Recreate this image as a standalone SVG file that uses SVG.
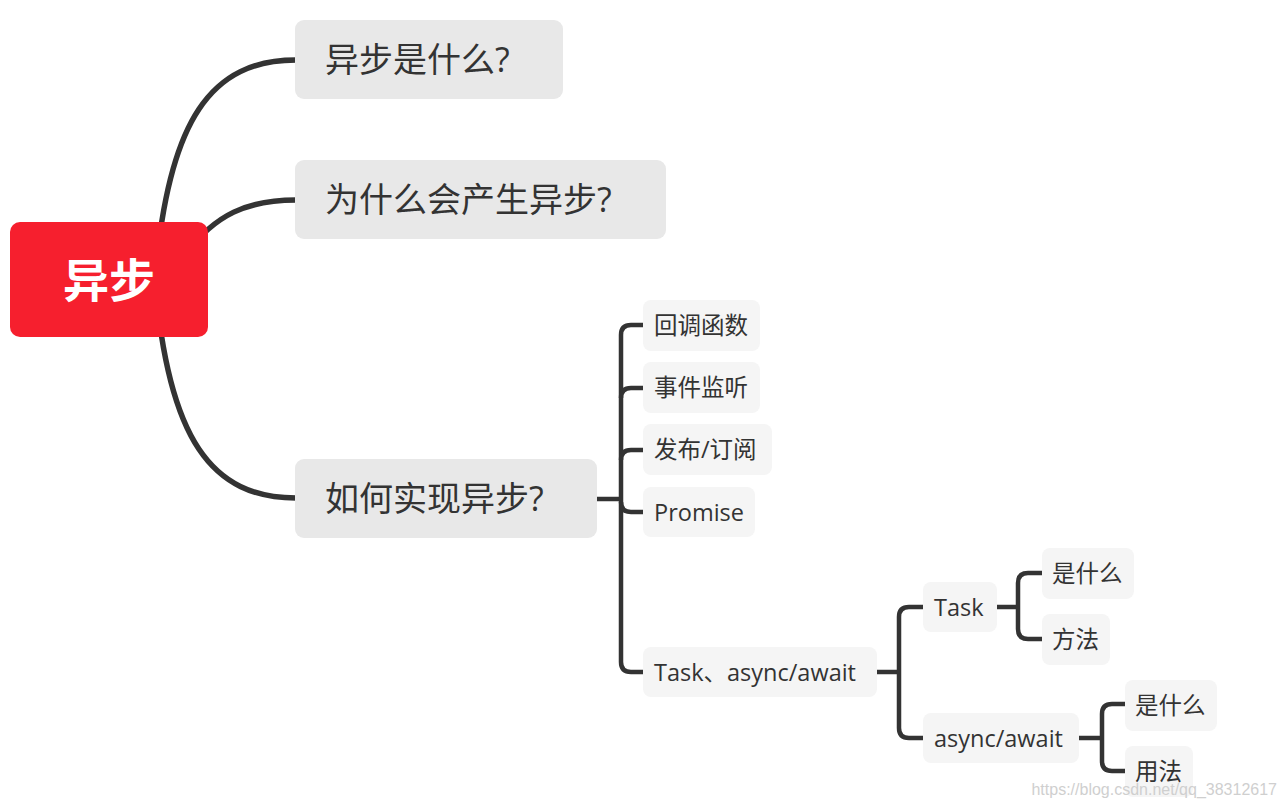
<svg xmlns="http://www.w3.org/2000/svg" width="1287" height="807" viewBox="0 0 1287 807">
<style>
.bg{fill:#ffffff}
.main{fill:none;stroke:#333333;stroke-width:5.5;stroke-linecap:round}
.sub{fill:none;stroke:#333333;stroke-width:4.5;stroke-linecap:butt}
.root{fill:#f61f2e}
.big{fill:#e8e8e8}
.small{fill:#f5f5f5}
.rt{font-family:"Noto Sans CJK SC","Noto Sans",sans-serif;font-weight:bold;font-size:46px;fill:#ffffff}
.bt{font-family:"Open Sans","Noto Sans CJK SC",sans-serif;font-size:34px;fill:#333333}
.st{font-family:"Open Sans","Noto Sans CJK SC",sans-serif;font-size:23.5px;fill:#333333}
.wm{font-family:"Liberation Sans",Arial,sans-serif;font-size:16px;fill:#cfcfcf}
</style>
<rect class="bg" x="0" y="0" width="1287" height="807"/>
<g id="connectors">
<path class="main" d="M155,280 C168,118 212,60 296,60"/>
<path class="main" d="M185,255 C215,214 248,200 296,200"/>
<path class="main" d="M155,280 C168,440 212,498 296,498"/>
<path class="sub" d="M597,499 H621"/>
<path class="sub" d="M643,325 H631 Q621,325 621,335 V662 Q621,672 631,672 H643"/>
<path class="sub" d="M621,398 Q621,388 631,388 H643"/>
<path class="sub" d="M621,460 Q621,450 631,450 H643"/>
<path class="sub" d="M621,502 Q621,512 631,512 H643"/>
<path class="sub" d="M877,672 H899"/>
<path class="sub" d="M923,607 H909 Q899,607 899,617 V728 Q899,738 909,738 H923"/>
<path class="sub" d="M997,607 H1018"/>
<path class="sub" d="M1042,573 H1028 Q1018,573 1018,583 V629 Q1018,639 1028,639 H1042"/>
<path class="sub" d="M1079,738 H1102"/>
<path class="sub" d="M1125,704 H1112 Q1102,704 1102,714 V761 Q1102,771 1112,771 H1125"/>
</g>
<g id="n-root">
<rect class="root" x="10" y="222" width="198" height="115" rx="10"/>
<text class="rt" x="109" y="297" text-anchor="middle">异步</text>
</g>
<g id="n-what">
<rect class="big" x="295" y="20" width="268" height="79" rx="9"/>
<text class="bt" x="325" y="72">异步是什么?</text>
</g>
<g id="n-why">
<rect class="big" x="295" y="160" width="371" height="79" rx="9"/>
<text class="bt" x="325" y="212">为什么会产生异步?</text>
</g>
<g id="n-how">
<rect class="big" x="295" y="459" width="302" height="79" rx="9"/>
<text class="bt" x="325" y="511">如何实现异步?</text>
</g>
<g id="n-callback">
<rect class="small" x="643" y="300" width="117" height="51" rx="8"/>
<text class="st" x="654" y="334">回调函数</text>
</g>
<g id="n-event">
<rect class="small" x="643" y="362" width="117" height="51" rx="8"/>
<text class="st" x="654" y="396">事件监听</text>
</g>
<g id="n-pubsub">
<rect class="small" x="643" y="424" width="129" height="51" rx="8"/>
<text class="st" x="654" y="458">发布/订阅</text>
</g>
<g id="n-promise">
<rect class="small" x="643" y="487" width="112" height="50" rx="8"/>
<text class="st" x="654" y="520.5">Promise</text>
</g>
<g id="n-taskasync">
<rect class="small" x="643" y="647" width="234" height="50" rx="8"/>
<text class="st" x="654" y="680.5">Task、async/await</text>
</g>
<g id="n-task">
<rect class="small" x="923" y="582" width="74" height="50" rx="8"/>
<text class="st" x="934" y="615.5">Task</text>
</g>
<g id="n-task-what">
<rect class="small" x="1042" y="548" width="92" height="51" rx="8"/>
<text class="st" x="1052" y="582">是什么</text>
</g>
<g id="n-task-method">
<rect class="small" x="1042" y="614" width="68" height="51" rx="8"/>
<text class="st" x="1052" y="648">方法</text>
</g>
<g id="n-async">
<rect class="small" x="923" y="713" width="156" height="50" rx="8"/>
<text class="st" x="934" y="746.5">async/await</text>
</g>
<g id="n-async-what">
<rect class="small" x="1125" y="680" width="92" height="51" rx="8"/>
<text class="st" x="1135" y="714">是什么</text>
</g>
<g id="n-async-usage">
<rect class="small" x="1125" y="746" width="68" height="51" rx="8"/>
<text class="st" x="1135" y="780">用法</text>
</g>
<text class="wm" x="1277" y="795" text-anchor="end">https://blog.csdn.net/qq_38312617</text>
</svg>
